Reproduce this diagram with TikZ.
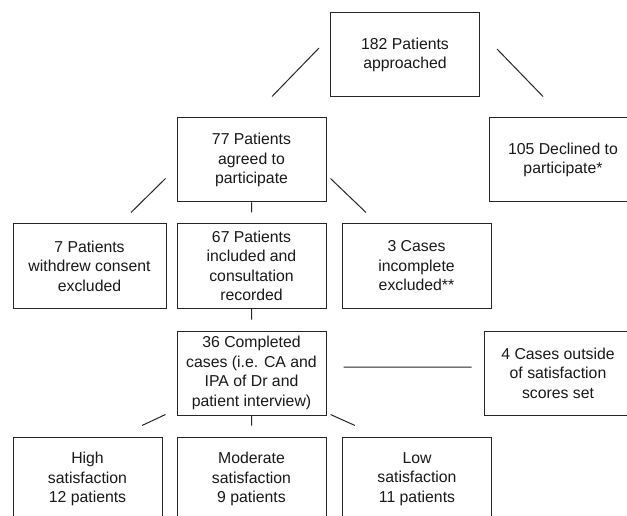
\documentclass[tikz,border=0pt]{standalone}
\usepackage{fontspec}
\setmainfont{Liberation Sans}
\begin{document}
\begin{tikzpicture}[x=1pt,y=-1pt,
  box/.style={draw=black!85,line width=1pt,minimum width=149pt,minimum height=84pt,
    inner sep=0pt,align=center,text=black!90,font=\fontsize{15.8}{19.5}\selectfont},
  link/.style={draw=black!85,line width=1pt}]
\useasboundingbox (0,0) rectangle (627,516);
\clip (0,0) rectangle (627,516);
\fill[white] (0,0) rectangle (627,516);
\node[box](top) at (405,55) {182 Patients\\approached};
\node[box](agree) at (251.5,160) {77 Patients\\agreed to\\participate};
\node[box,minimum width=148pt](decl) at (563,160) {105 Declined to\\participate*};
\node[box,minimum width=153pt](withdrew) at (89.5,266) {7 Patients\\withdrew consent\\excluded};
\node[box](incl) at (251.5,266) {67 Patients\\included and\\consultation\\recorded};
\node[box](incomp) at (416.5,266) {3 Cases\\incomplete\\excluded**};
\node[box](compl) at (251.5,373) {36 Completed\\cases (i.e. CA and\\IPA of Dr and\\patient interview)};
\node[box,minimum width=148pt](outside) at (558,373) {4 Cases outside\\of satisfaction\\scores set};
\node[box](high) at (87.5,479) {High\\satisfaction\\12 patients};
\node[box](mod) at (251.5,479) {Moderate\\satisfaction\\9 patients};
\node[box](low) at (417,479) {Low\\satisfaction\\11 patients};
\path[link]
([xshift=-11pt,yshift=7pt]top.west) -- ([xshift=20.5pt,yshift=21pt]agree.north)
([xshift=17pt,yshift=6pt]top.east) -- ([xshift=-20pt,yshift=21pt]decl.north)
([xshift=-11pt,yshift=24pt]agree.south west) -- ([xshift=41.5pt,yshift=11pt]withdrew.north)
(agree.south) -- ([yshift=11pt]incl.north)
([xshift=4pt,yshift=24pt]agree.south east) -- ([xshift=-50.5pt,yshift=11pt]incomp.north)
(incl.south) -- ([yshift=11pt]compl.north)
([xshift=17pt,yshift=6pt]compl.east) -- ([xshift=-12pt,yshift=6pt]outside.west)
([xshift=-11pt,yshift=1pt]compl.south west) -- ([xshift=54.5pt,yshift=11pt]high.north)
(compl.south) -- ([yshift=11pt]mod.north)
([xshift=4pt,yshift=1pt]compl.south east) -- ([xshift=-62pt,yshift=11pt]low.north);
\end{tikzpicture}
\end{document}
